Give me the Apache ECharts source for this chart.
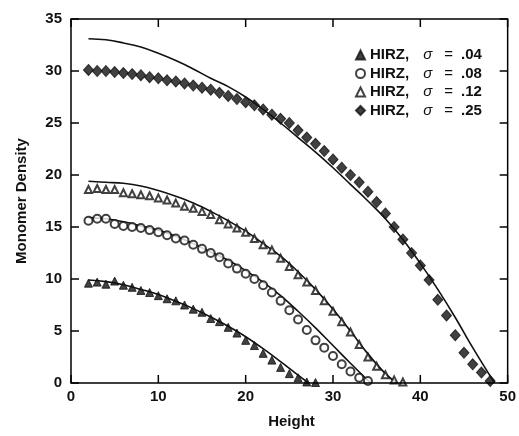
<!DOCTYPE html>
<html>
<head>
<meta charset="utf-8">
<script src="https://cdn.jsdelivr.net/npm/echarts@6/dist/echarts.min.js"></script>
<style>
  html, body { margin: 0; padding: 0; background: #fff; }
  #chart { width: 519px; height: 436px; background: #fff; }
</style>
</head>
<body>
<div id="chart"></div>
<script>
// Simulated monomer density profiles (markers) and theory curves (solid lines)
const sigmaLabels = ['.04', '.08', '.12', '.25'];

const h04 = [2,3,4,5,6,7,8,9,10,11,12,13,14,15,16,17,18,19,20,21,22,23,24,25,26,27,28];
const rho04 = [9.6,9.7,9.5,9.8,9.4,9.2,8.9,8.7,8.4,8.1,7.9,7.5,7.1,6.8,6.2,5.9,5.35,4.8,4.1,3.6,2.85,2.2,1.5,0.9,0.5,0.1,0.05];

const h08 = [2,3,4,5,6,7,8,9,10,11,12,13,14,15,16,17,18,19,20,21,22,23,24,25,26,27,28,29,30,31,32,33,34];
const rho08 = [15.6,15.8,15.8,15.3,15.1,15.0,14.9,14.7,14.5,14.2,13.9,13.7,13.3,12.9,12.5,12.1,11.5,11.0,10.5,10.0,9.4,8.7,7.9,7.0,6.1,5.1,4.1,3.4,2.6,1.8,1.1,0.5,0.2];

const h12 = [2,3,4,5,6,7,8,9,10,11,12,13,14,15,16,17,18,19,20,21,22,23,24,25,26,27,28,29,30,31,32,33,34,35,36,37,38];
const rho12 = [18.6,18.7,18.6,18.6,18.3,18.2,18.1,18.0,17.8,17.6,17.3,17.0,16.8,16.5,16.2,15.7,15.3,14.9,14.5,13.9,13.3,12.8,12.0,11.2,10.4,9.7,8.9,7.9,6.9,5.9,4.9,3.7,2.5,1.6,0.8,0.3,0.1];

const h25 = [2,3,4,5,6,7,8,9,10,11,12,13,14,15,16,17,18,19,20,21,22,23,24,25,26,27,28,29,30,31,32,33,34,35,36,37,38,39,40,41,42,43,44,45,46,47,48];
const rho25 = [30.1,30.0,30.0,29.9,29.8,29.7,29.6,29.4,29.3,29.1,29.0,28.8,28.6,28.4,28.2,27.9,27.6,27.3,27.0,26.7,26.3,25.8,25.4,25.0,24.3,23.6,23.0,22.3,21.5,20.7,20.0,19.3,18.4,17.4,16.3,15.0,13.8,12.5,11.3,9.9,8.0,6.5,4.6,2.9,1.8,1.0,0.2];

// Theory curves
const fitH04 = [2,4,6,8,10,12,14,16,18,20,22,24,26,27.2];
const fitRho04 = [9.9,9.75,9.45,9.0,8.5,7.85,7.15,6.35,5.45,4.45,3.3,2.05,0.75,0];

const fitH08 = [2,4,6,8,10,12,14,16,18,20,22,24,26,28,30,32,34.3];
const fitRho08 = [15.9,15.8,15.5,15.1,14.7,14.1,13.4,12.6,11.8,10.8,9.7,8.4,6.9,5.3,3.6,1.9,0];

const fitH12 = [2,4,6,8,10,12,14,16,18,20,22,24,26,28,30,32,34,36,37.3];
const fitRho12 = [19.4,19.3,19.2,18.95,18.5,17.95,17.3,16.5,15.6,14.6,13.4,12.2,10.7,9.0,7.1,5.0,2.8,0.9,0];

const fitH25 = [2,4,6,8,10,12,14,16,18,20,22,24,26,28,30,32,34,36,38,40,42,44,46,48.5];
const fitRho25 = [33.1,33.0,32.7,32.3,31.7,31.0,30.2,29.3,28.5,27.5,26.3,25.0,23.6,22.2,20.7,19.1,17.5,15.8,13.8,11.5,9.0,6.3,3.4,0];

const xTicks = [0, 10, 20, 30, 40, 50];
const yTicks = [0, 5, 10, 15, 20, 25, 30, 35];
const xTitle = 'Height';
const yTitle = 'Monomer Density';

const pairs = (xs, ys) => xs.map((x, i) => [x, ys[i]]);
const FONT = '"Liberation Sans", Arial, Helvetica, sans-serif';
const INK = '#111';
const X_MIN = 0, X_MAX = 50, Y_MIN = 0, Y_MAX = 35;

const markerDefs = [
  { sym: 'triangle',      size: 8,        h: h04, r: rho04 },
  { sym: 'emptyCircle',   size: 8,        h: h08, r: rho08 },
  { sym: 'emptyTriangle', size: 7,        h: h12, r: rho12 },
  { sym: 'diamond',       size: [10, 11], h: h25, r: rho25 }
];
const fits = [[fitH04, fitRho04], [fitH08, fitRho08], [fitH12, fitRho12], [fitH25, fitRho25]];

const names = sigmaLabels.map(s => 'HIRZ, σ = ' + s);

const series = [];
fits.forEach(([hx, ry]) => {
  series.push({
    type: 'line', data: pairs(hx, ry), smooth: 0.4, showSymbol: false, symbol: 'none',
    lineStyle: { color: INK, width: 1.6 }, z: 2
  });
});
markerDefs.forEach((m, i) => {
  series.push({
    name: names[i], type: 'scatter', data: pairs(m.h, m.r),
    symbol: m.sym, symbolSize: m.size,
    itemStyle: { color: INK, borderColor: INK, borderWidth: 1 }, z: 3
  });
});

// Plot frame with inward tick marks on all four sides, placed through the axis scales
series.push({
  type: 'custom', coordinateSystem: 'cartesian2d', silent: true, clip: false, z: 4,
  data: [[X_MIN, Y_MIN]],
  renderItem: (params, api) => {
    const lo = api.coord([X_MIN, Y_MIN]);
    const hi = api.coord([X_MAX, Y_MAX]);
    const left = lo[0], bottom = lo[1], right = hi[0], top = hi[1];
    const TICK = 8;
    const st = { stroke: '#000', lineWidth: 1.5, fill: 'none' };
    const kids = [{
      type: 'rect', shape: { x: left, y: top, width: right - left, height: bottom - top },
      style: { stroke: '#000', lineWidth: 1.5, fill: 'none' }
    }];
    xTicks.forEach(v => {
      const x = api.coord([v, Y_MIN])[0];
      kids.push({ type: 'line', shape: { x1: x, y1: bottom, x2: x, y2: bottom - TICK }, style: st });
      kids.push({ type: 'line', shape: { x1: x, y1: top, x2: x, y2: top + TICK }, style: st });
    });
    yTicks.forEach(v => {
      const y = api.coord([X_MIN, v])[1];
      kids.push({ type: 'line', shape: { x1: left, y1: y, x2: left + TICK, y2: y }, style: st });
      kids.push({ type: 'line', shape: { x1: right, y1: y, x2: right - TICK, y2: y }, style: st });
    });
    return { type: 'group', children: kids };
  }
});

const lbl = (margin, ticks) => ({
  show: true, margin: margin, color: INK, fontFamily: FONT, fontWeight: 'bold', fontSize: 15,
  formatter: v => ticks.includes(v) ? String(v) : ''
});

const chart = echarts.init(document.getElementById('chart'), null, { renderer: 'canvas' });
chart.setOption({
  animation: false,
  grid: { left: 71, right: 7, top: 19, bottom: 53 },
  legend: {
    orient: 'vertical', left: 355, top: 47.5, padding: 0,
    data: names, itemWidth: 9, itemHeight: 9, itemGap: 3.5,
    selectedMode: false,
    formatter: n => '{b|HIRZ,}{s|σ}{r|=}{c|' + n.split('= ')[1] + '}',
    textStyle: {
      color: INK, lineHeight: 15,
      rich: {
        b: { fontFamily: FONT, fontWeight: 'bold', fontSize: 15, color: INK, lineHeight: 15 },
        s: { fontFamily: FONT, fontStyle: 'italic', fontSize: 15, color: INK, padding: [0, 0, 0, 14], lineHeight: 15 },
        r: { fontFamily: FONT, fontSize: 15, color: INK, padding: [0, 0, 0, 12], lineHeight: 15 },
        c: { fontFamily: FONT, fontWeight: 'bold', fontSize: 15, color: INK, padding: [0, 0, 0, 8], lineHeight: 15 }
      }
    }
  },
  graphic: [
    { type: 'text', x: 291.5, y: 422, z: 10,
      style: { text: xTitle, font: 'bold 15px ' + FONT, fill: INK, align: 'center', verticalAlign: 'middle', textAlign: 'center', textVerticalAlign: 'middle' } },
    { type: 'text', x: 22, y: 201, rotation: Math.PI / 2, z: 10,
      style: { text: yTitle, font: 'bold 15px ' + FONT, fill: INK, align: 'center', verticalAlign: 'middle', textAlign: 'center', textVerticalAlign: 'middle' } }
  ],
  xAxis: {
    type: 'value', min: X_MIN, max: X_MAX, interval: 10, position: 'bottom',
    axisLine: { show: false, onZero: false }, axisTick: { show: false }, splitLine: { show: false },
    axisLabel: lbl(6, xTicks)
  },
  yAxis: {
    type: 'value', min: Y_MIN, max: Y_MAX, interval: 5, position: 'left',
    axisLine: { show: false, onZero: false }, axisTick: { show: false }, splitLine: { show: false },
    axisLabel: lbl(9, yTicks)
  },
  series: series
});
</script>
</body>
</html>
